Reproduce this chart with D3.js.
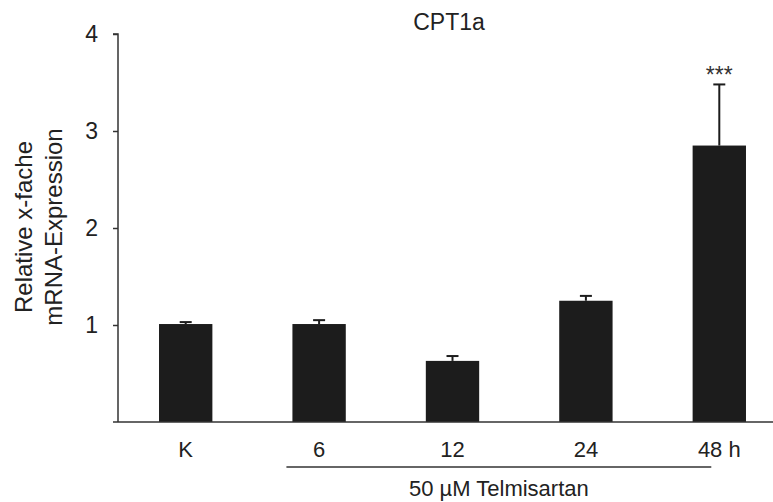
<!DOCTYPE html>
<html>
<head>
<meta charset="utf-8">
<script src="https://cdn.jsdelivr.net/npm/d3@7"></script>
<style>
  html, body { margin: 0; padding: 0; background: #fff; }
  svg { display: block; font-family: "Liberation Sans", Arial, sans-serif; }
</style>
</head>
<body>
<svg id="chart" width="773" height="502"></svg>
<script>
const categories = ["K", "6", "12", "24", "48 h"];
const values = [1.01, 1.01, 0.63, 1.25, 2.85];
const errors = [0.02, 0.04, 0.05, 0.05, 0.63];
const significance = ["", "", "", "", "***"];
const yTicks = [1, 2, 3, 4];
const title = "CPT1a";
const yLabelLines = ["Relative x-fache", "mRNA-Expression"];
const groupLabel = "50 µM Telmisartan";

const svg = d3.select("#chart");
const ink = "#1c1c1c";
const axisInk = "#333";

const x = d3.scaleBand().domain(categories).range([119, 786]).paddingInner(0.6).paddingOuter(0.3);
const y = d3.scaleLinear().domain([0, 4]).range([422, 34]);
const x0 = 118, xEnd = 773;

// bars
svg.append("g").selectAll("rect").data(categories).join("rect")
  .attr("x", d => x(d))
  .attr("y", (d, i) => y(values[i]))
  .attr("width", x.bandwidth())
  .attr("height", (d, i) => y(0) - y(values[i]))
  .attr("fill", ink);

// error bars
const eb = svg.append("g").attr("stroke", ink).attr("stroke-width", 2);
categories.forEach((c, i) => {
  const cx = x(c) + x.bandwidth() / 2;
  eb.append("line").attr("x1", cx).attr("x2", cx)
    .attr("y1", y(values[i])).attr("y2", y(values[i] + errors[i]));
  eb.append("line").attr("x1", cx - 6).attr("x2", cx + 6)
    .attr("y1", y(values[i] + errors[i])).attr("y2", y(values[i] + errors[i]));
});

// significance
svg.append("g").selectAll("text").data(categories).join("text")
  .attr("x", d => x(d) + x.bandwidth() / 2)
  .attr("y", (d, i) => y(values[i] + errors[i]) - 1)
  .attr("text-anchor", "middle")
  .attr("font-size", 23)
  .attr("fill", "#333")
  .text((d, i) => significance[i]);

// y axis
const yAxis = d3.axisLeft(y).tickValues(yTicks).tickSize(5).tickPadding(15).tickFormat(d3.format("d"));
const gy = svg.append("g").attr("transform", `translate(${x0},0)`).call(yAxis);
gy.select(".domain").attr("stroke", axisInk).attr("stroke-width", 1.5).attr("d", `M-5,${y(4)}H0V${y(0)}`);
gy.selectAll(".tick line").attr("stroke", axisInk).attr("stroke-width", 1.5);
gy.selectAll(".tick text").attr("font-size", 23).attr("fill", "#222").attr("font-family", "Liberation Sans, Arial, sans-serif");

// x axis line
svg.append("line").attr("x1", x0 - 5).attr("x2", xEnd).attr("y1", y(0)).attr("y2", y(0))
  .attr("stroke", axisInk).attr("stroke-width", 1.5);

// x labels
svg.append("g").selectAll("text").data(categories).join("text")
  .attr("x", d => x(d) + x.bandwidth() / 2)
  .attr("y", 457)
  .attr("text-anchor", "middle")
  .attr("font-size", 22)
  .attr("fill", "#222")
  .text(d => d);

// group underline
svg.append("line")
  .attr("x1", x("6") - 6)
  .attr("x2", x("48 h") + x.bandwidth() * 0.35)
  .attr("y1", 467).attr("y2", 467)
  .attr("stroke", axisInk).attr("stroke-width", 1.5);

svg.append("text")
  .attr("x", (x("6") - 6 + x("48 h") + x.bandwidth() * 0.35) / 2)
  .attr("y", 496)
  .attr("text-anchor", "middle")
  .attr("font-size", 22)
  .attr("fill", "#222")
  .text(groupLabel);

// title
svg.append("text").attr("x", 449).attr("y", 30).attr("text-anchor", "middle")
  .attr("font-size", 23).attr("fill", "#222").text(title);

// y label
const yl = svg.append("text").attr("transform", "translate(32,227) rotate(-90)")
  .attr("text-anchor", "middle").attr("font-size", 24).attr("fill", "#222");
yLabelLines.forEach((t, i) => {
  yl.append("tspan").attr("x", 0).attr("dy", i === 0 ? 0 : 30).text(t);
});
</script>
</body>
</html>
